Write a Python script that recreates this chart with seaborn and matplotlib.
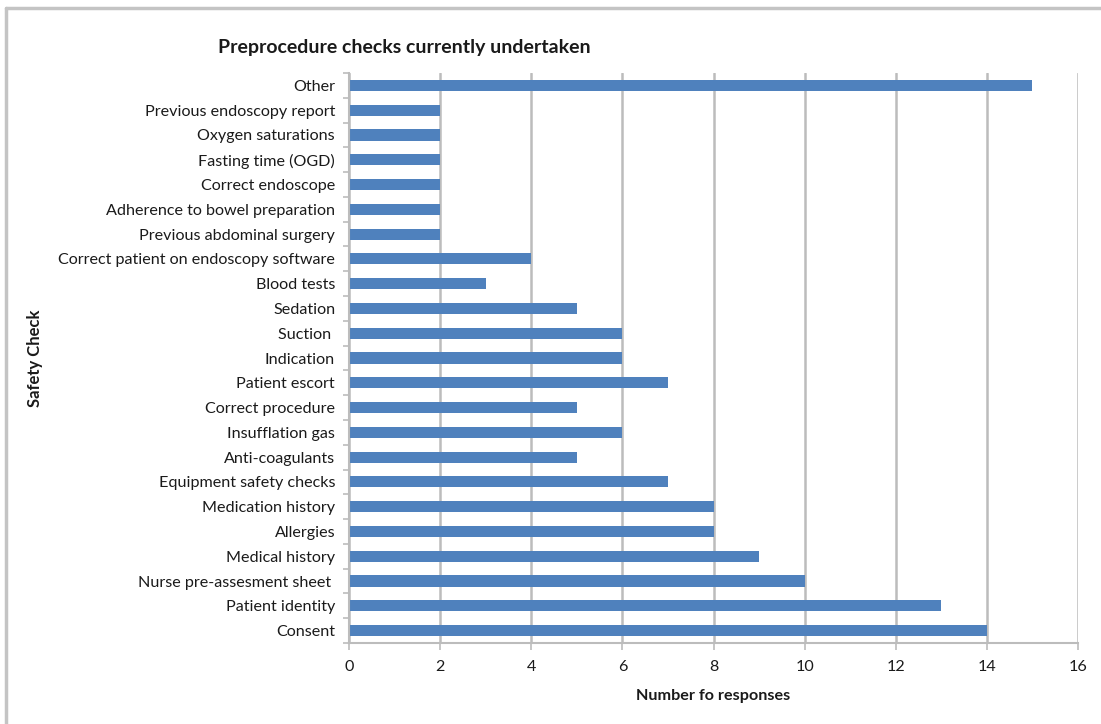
import matplotlib
matplotlib.use("Agg")
import matplotlib.pyplot as plt
from matplotlib.lines import Line2D
import seaborn as sns
import pandas as pd

# Safety checks listed top to bottom as they appear on the chart
checks = [
    "Other",
    "Previous endoscopy report",
    "Oxygen saturations",
    "Fasting time (OGD)",
    "Correct endoscope",
    "Adherence to bowel preparation",
    "Previous abdominal surgery",
    "Correct patient on endoscopy software",
    "Blood tests",
    "Sedation",
    "Suction ",
    "Indication",
    "Patient escort",
    "Correct procedure",
    "Insufflation gas",
    "Anti-coagulants",
    "Equipment safety checks",
    "Medication history",
    "Allergies",
    "Medical history",
    "Nurse pre-assesment sheet ",
    "Patient identity",
    "Consent",
]
responses = [15, 2, 2, 2, 2, 2, 2, 4, 3, 5, 6, 6, 7, 5, 6, 5, 7, 8, 8, 9, 10, 13, 14]
x_ticks = [0, 2, 4, 6, 8, 10, 12, 14, 16]

df = pd.DataFrame({"check": checks, "responses": responses})

sns.set_theme(style="white")
plt.rcParams["font.family"] = ["Lato", "DejaVu Sans"]

BAR = "#4F81BD"
GRID = "#bcbcbc"
TEXT = "#1a1a1a"

fig = plt.figure(figsize=(11.01, 7.24), dpi=100)
ax = fig.add_axes([349 / 1101, 1 - 643 / 724, (1078 - 349) / 1101, (643 - 73) / 724])

sns.barplot(data=df, x="responses", y="check", order=checks, orient="h",
            color=BAR, saturation=1, width=0.45, linewidth=0, ax=ax)

ax.set_xlim(0, 16)
ax.set_ylim(len(checks) - 0.5, -0.5)
ax.set_xticks(x_ticks)
ax.set_xticklabels([str(t) for t in x_ticks])

# vertical gridlines behind the bars
ax.set_axisbelow(True)
ax.xaxis.grid(True, color=GRID, linewidth=1.8)
ax.yaxis.grid(False)

for side in ("top", "right"):
    ax.spines[side].set_visible(False)
for side in ("left", "bottom"):
    ax.spines[side].set_color(GRID)
    ax.spines[side].set_linewidth(1.5)

# category separator ticks on the left axis
ax.set_yticks([i - 0.5 for i in range(len(checks) + 1)], minor=True)
ax.tick_params(axis="y", which="minor", left=True, length=4, width=1.2, color=GRID)
ax.tick_params(axis="y", which="major", left=False, pad=4, labelsize=11.6, labelcolor=TEXT)
ax.tick_params(axis="x", which="major", bottom=True, length=5, width=1.2, color=GRID,
               pad=7, labelsize=11.6, labelcolor=TEXT)

ax.set_xlabel("Number fo responses", fontsize=11.6, fontweight="bold", color=TEXT, labelpad=11)
ax.set_ylabel("")
fig.text(35 / 1101, 1 - 358 / 724, "Safety Check", rotation=90, ha="center", va="center",
         fontsize=12, fontweight="bold", color=TEXT)

fig.text(218 / 1101, 1 - 47 / 724, "Preprocedure checks currently undertaken",
         ha="left", va="center", fontsize=14, fontweight="bold", color=TEXT)

# chart frame along the top and left edges
fig.add_artist(Line2D([6 / 1101, 6 / 1101], [0, 1 - 8 / 724], transform=fig.transFigure,
                      color="#c4c4c4", linewidth=2.5))
fig.add_artist(Line2D([6 / 1101, 1], [1 - 8 / 724, 1 - 8 / 724], transform=fig.transFigure,
                      color="#c4c4c4", linewidth=2.5))

fig.savefig("out.png", dpi=100)
